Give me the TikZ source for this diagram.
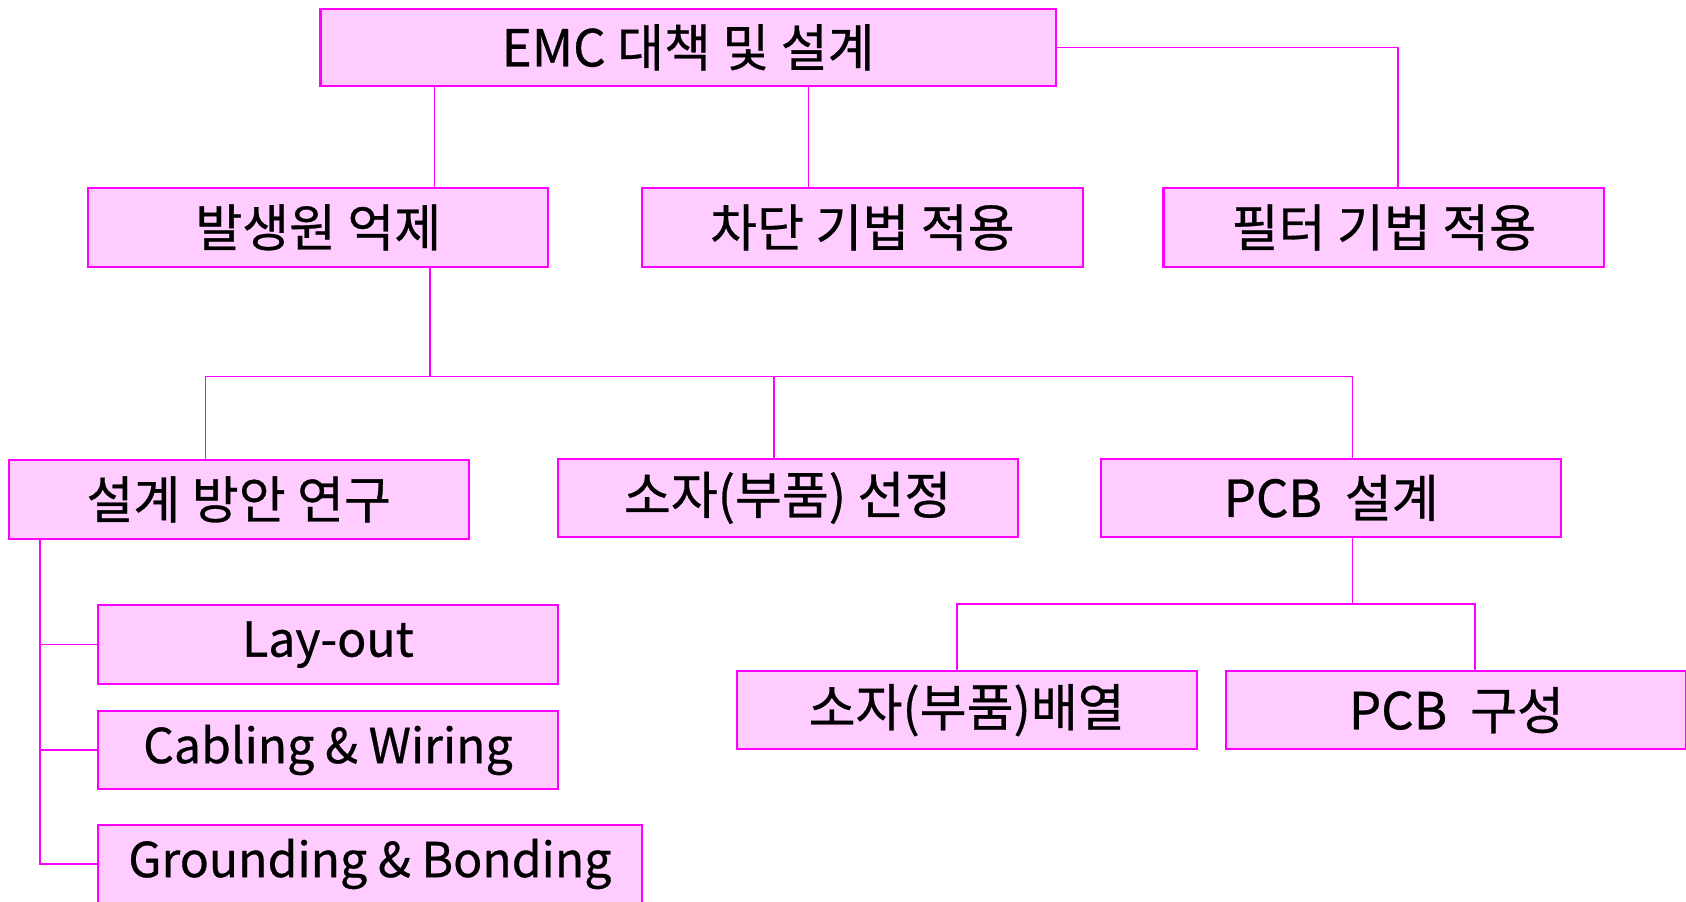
\documentclass[tikz,border=0pt]{standalone}
\usepackage{fontspec}
\setmainfont{Noto Sans CJK KR}
\newfontfamily\kr[FakeBold=0.6]{Noto Sans CJK KR}
\usetikzlibrary{calc}
\definecolor{boxfill}{HTML}{FFCCFF}
\definecolor{boxline}{HTML}{FF00FF}

\begin{document}
\begin{tikzpicture}[x=0.02cm, y=-0.02cm,
	box/.style={draw=boxline, fill=boxfill, line width=1.1pt, rectangle,
		minimum height=1.46cm, inner sep=0pt, font=\kr\fontsize{27}{30}\selectfont},
	latin/.style={font=\kr\fontsize{25.5}{30}\selectfont},
	link/.style={draw=boxline, line width=0.85pt}]
	\def \bw {8.56cm}
	\def \sw {8.2cm}

	\clip (0,0) rectangle (1568,838);

	% top level
	\node[box, minimum width=13.68cm, minimum height=1.44cm] (emc) at (640,44)
		{EMC 대책 및 설계};

	\node[box, minimum width=\bw] (source) at (296,211.5) {발생원 억제};
	\node[box, minimum width=\sw] (shield) at (802,211.5) {차단 기법 적용};
	\node[box, minimum width=\sw] (filter) at (1287,211.5) {필터 기법 적용};

	% second level
	\node[box, minimum width=\bw] (method) at (222,464.5) {설계 방안 연구};
	\node[box, minimum width=\bw] (part)   at (732.5,463) {소자(부품) 선정};
	\node[box, minimum width=\bw] (pcb)    at (1238,463) {PCB\ \ 설계};

	\node[box, latin, minimum width=\bw] (layout)  at (305,599.5) {Lay-out};
	\node[box, latin, minimum width=\bw] (cabling) at (305,697.5) {Cabling \& Wiring};
	\node[box, latin, minimum width=10.12cm] (grounding) at (344,803.5)
		{Grounding \& Bonding};

	\node[box, minimum width=\bw] (arrange) at (899,660.5) {소자(부품)배열};
	\node[box, minimum width=\bw] (pcbcomp) at (1354.5,660.5) {PCB\ \ 구성};

	\coordinate (bus)  at (400,350);
	\coordinate (pbus) at (1258,562);

	\draw[link] (emc.south -| 404,0) -- (source.north -| 404,0);
	\draw[link] (emc.south -| 752,0) -- (shield.north -| 752,0);
	\draw[link] (emc.east) -| (filter.north -| 1300,0);

	\draw[link] (source.south -| bus) -- (bus);
	\draw[link] (method.north -| 191,0) |- (bus) -| (pcb.north -| 1258,0);
	\draw[link] (bus -| 720,0) -- (part.north -| 720,0);

	\draw[link] (pcb.south -| pbus) -- (pbus);
	\draw[link] (arrange.north -| 890,0) |- (pbus) -| (pcbcomp.north -| 1372,0);

	\draw[link] (method.south -| 37,0) |- (grounding.west);
	\draw[link] (layout.west -| 37,0) -- (layout.west);
	\draw[link] (cabling.west -| 37,0) -- (cabling.west);
\end{tikzpicture}
\end{document}
